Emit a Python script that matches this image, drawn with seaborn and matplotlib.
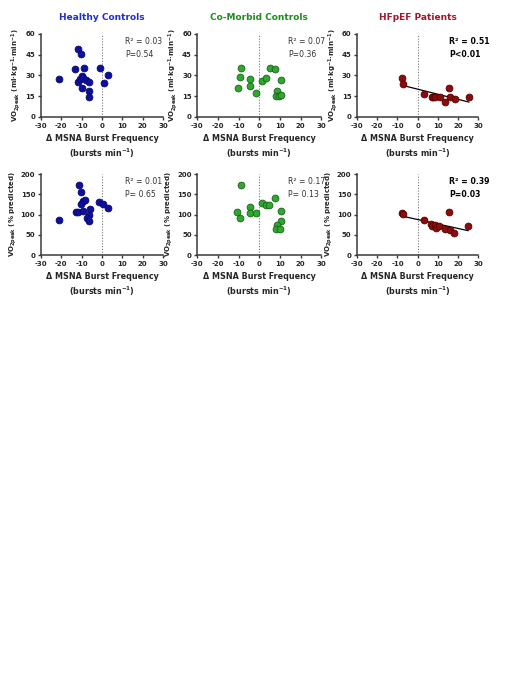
import matplotlib
matplotlib.use("Agg")
import matplotlib.pyplot as plt
import pandas as pd
import seaborn as sns

sns.set_style("ticks")
plt.rcParams['font.family'] = ['DejaVu Sans']
plt.rcParams['mathtext.default'] = 'bf'
plt.rcParams['axes.unicode_minus'] = False

# Healthy controls
hc_vo2_x = [-21.3, -11.6, -10.4, -13.2, -8.9, -1.0, 2.9, 1.0, -11.9, -10.7,
            -9.9, -9.1, -8.0, -6.2, -9.6, -6.2, -6.5]
hc_vo2_y = [27.7, 49.0, 45.8, 34.5, 35.7, 35.7, 30.6, 24.4, 25.1, 27.3,
            29.6, 28.4, 26.8, 25.1, 20.7, 18.6, 14.7]
hc_pct_x = [-21.3, -11.4, -10.4, -9.4, -8.1, -10.4, -12.8, -11.6, -9.1, -5.9,
            -6.2, -7.5, -6.3, -1.3, 0.6, 2.8]
hc_pct_y = [87, 173, 155.6, 134, 135.8, 125, 106, 106, 109, 113.6,
            98.8, 90.5, 84.7, 130.9, 126, 116.8]

# Co-morbid controls
cm_vo2_x = [-10.4, -9.6, -8.8, -4.3, -4.3, -1.6, 1.4, 3.4, 5.0, 7.4,
            10.7, 8.6, 8.2, 9.6, 10.7]
cm_vo2_y = [21.0, 28.7, 35.7, 27.2, 22.4, 17.3, 26.0, 28.4, 35.7, 34.5,
            27.0, 19.0, 15.2, 15.4, 16.1]
cm_pct_x = [-8.8, -10.6, -9.6, -4.4, -4.4, -1.5, 1.3, 3.1, 4.9, 7.5,
            10.6, 10.4, 8.5, 8.3, 9.8]
cm_pct_y = [172, 106, 91, 119, 104.5, 103, 127.6, 122.6, 123.5, 141.6,
            107.8, 84.8, 74, 65, 63.4]

# HFpEF patients
hf_vo2_x = [-7.7, -7.2, 3.3, 6.9, 7.8, 8.8, 10.8, 13.4, 15.7, 16.0, 18.3, 25.4]
hf_vo2_y = [28.0, 24.1, 16.9, 14.2, 14.2, 14.2, 14.5, 11.1, 21.2, 14.2, 12.8, 14.7]
hf_pct_x = [-7.7, -7.2, 3.3, 6.7, 7.2, 8.6, 8.9, 10.5, 13.3, 15.5, 15.8, 18.1, 25.0]
hf_pct_y = [103.7, 101, 86.4, 75.7, 71.6, 73.3, 67.5, 71.6, 64.2, 106, 61.7, 55, 71.6]

titles = ['Healthy Controls', 'Co-Morbid Controls', 'HFpEF Patients']
title_colors = ['#1f2fd0', '#1e8c1e', '#a3162b']
fill_colors = ['#0e0ea0', '#2ea82e', '#8a0c0c']
edge_colors = ['#08086a', '#1a601a', '#550000']
stats_top = ['R² = 0.03\nP=0.54', 'R² = 0.07\nP=0.36', 'R² = 0.51\nP<0.01']
stats_bot = ['R² = 0.01\nP= 0.65', 'R² = 0.17\nP= 0.13', 'R² = 0.39\nP=0.03']
stats_x = [0.69, 0.73, 0.76]

top_data = [(hc_vo2_x, hc_vo2_y), (cm_vo2_x, cm_vo2_y), (hf_vo2_x, hf_vo2_y)]
bot_data = [(hc_pct_x, hc_pct_y), (cm_pct_x, cm_pct_y), (hf_pct_x, hf_pct_y)]

fig = plt.figure(figsize=(5.1, 6.8), dpi=100)
lefts = [0.080, 0.387, 0.700]
widths = [0.240, 0.243, 0.238]
spine_col = '#3a3a3a'


def style_axis(ax, ymax, ystep, ylabel):
    ax.set_xlim(-30, 30)
    ax.set_ylim(0, ymax)
    ax.set_xticks(range(-30, 31, 10))
    ax.set_yticks(range(0, ymax + 1, ystep))
    ax.axvline(0, color='#777777', ls=(0, (1, 1.5)), lw=0.8, zorder=0)
    sns.despine(ax=ax)
    for s in ['left', 'bottom']:
        ax.spines[s].set_linewidth(1.1)
        ax.spines[s].set_color(spine_col)
    ax.tick_params(labelsize=5, width=1, length=2.5, color=spine_col, pad=1.5)
    for lab in ax.get_xticklabels() + ax.get_yticklabels():
        lab.set_fontweight('bold')
    ax.set_xlabel('Δ MSNA Burst Frequency\n(bursts min$^{-1}$)', fontsize=5.8,
                  fontweight='bold', labelpad=4, linespacing=1.3)
    ax.set_ylabel(ylabel, fontsize=5, fontweight='bold', labelpad=1.5)


for i in range(3):
    for row, (data, stats, ymax, ystep, ylabel, bottom, height) in enumerate([
            (top_data, stats_top, 60, 15,
             'VO$_{2peak}$ (ml·kg$^{-1}$·min$^{-1}$)', 0.828, 0.122),
            (bot_data, stats_bot, 200, 50,
             'VO$_{2peak}$ (% predicted)', 0.625, 0.119)]):
        ax = fig.add_axes([lefts[i], bottom, widths[i], height])
        df = pd.DataFrame({'x': data[i][0], 'y': data[i][1]})
        if i == 2:
            sns.regplot(data=df, x='x', y='y', ax=ax, scatter=False, ci=None,
                        line_kws={'color': 'black', 'lw': 0.9})
        sns.scatterplot(data=df, x='x', y='y', ax=ax, s=24,
                        color=fill_colors[i], edgecolor=edge_colors[i],
                        linewidth=0.6, zorder=3)
        style_axis(ax, ymax, ystep, ylabel)
        ax.text(stats_x[i], 0.96, stats[i], transform=ax.transAxes, fontsize=5.6,
                va='top', ha='left', linespacing=1.5,
                fontweight='bold' if i == 2 else 'normal',
                color='black' if i == 2 else '#333333')
        if row == 0:
            ax.set_title(titles[i], fontsize=6.5, fontweight='bold',
                         color=title_colors[i], pad=10)

fig.savefig('out.png', dpi=100)
